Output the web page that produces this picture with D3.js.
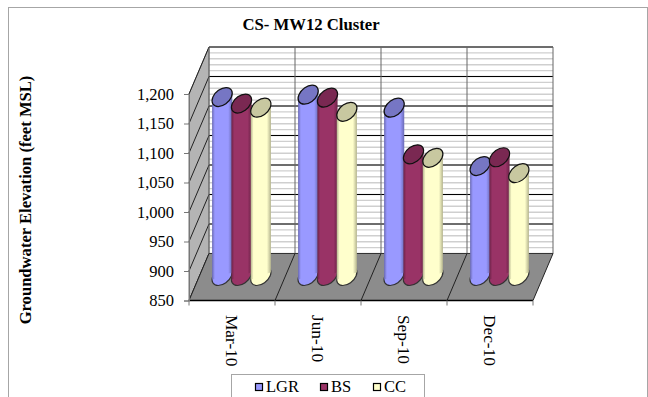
<!DOCTYPE html>
<html>
<head>
<meta charset="utf-8">
<script src="https://cdn.jsdelivr.net/npm/d3@7"></script>
<style>
  html, body { margin: 0; padding: 0; background: #fff; overflow: hidden; }
  text { font-family: "Liberation Serif", serif; fill: #000; }
</style>
</head>
<body>
<svg id="chart" width="648" height="397"></svg>
<script>
var categories = ['Mar-10', 'Jun-10', 'Sep-10', 'Dec-10'];
var seriesNames = ['LGR', 'BS', 'CC'];
var lgr = [1155, 1159, 1137, 1038];
var bs = [1144, 1154, 1058, 1053];
var cc = [1137, 1130, 1052, 1026];
var yTicks = [850, 900, 950, 1000, 1050, 1100, 1150, 1200];
var minorTicks = d3.range(850, 1201, 10);

var seriesValues = [lgr, bs, cc];
var bodyColors = ['#9999ff', '#993366', '#ffffcc'];
var edgeColors = ['#6a6ab4', '#6c2348', '#b4b48e'];
var capColors = ['#7676c4', '#7a2852', '#c8c8a0'];

// front plane of the box, the back wall is this shifted by depth
var x = d3.scaleBand().domain(categories).range([189, 533]);
var y = d3.scaleLinear().domain([850, 1200]).range([300.5, 94]);
var depth = { dx: 20, dy: -47 };
var barDepth = { dx: 8, dy: -19 };
var barW = 18.5;

var svg = d3.select('#chart');

svg.append('rect').attr('x', 8.5).attr('y', 7.5).attr('width', 639).attr('height', 400)
  .attr('fill', '#fff').attr('stroke', '#a6a6a6');

var defs = svg.append('defs');
seriesNames.forEach(function(name, i) {
  var g = defs.append('linearGradient').attr('id', 'grad-' + name);
  g.append('stop').attr('offset', '0').attr('stop-color', edgeColors[i]);
  g.append('stop').attr('offset', '0.14').attr('stop-color', bodyColors[i]);
  g.append('stop').attr('offset', '0.8').attr('stop-color', bodyColors[i]);
  g.append('stop').attr('offset', '1').attr('stop-color', edgeColors[i]);
});

var x0 = x.range()[0], x1 = x.range()[1];
var y0 = y(850), yTop = y(1200);

function pts(list) {
  return list.map(function(p) { return p.join(','); }).join(' ');
}

// back wall
svg.append('polygon')
  .attr('points', pts([[x0 + depth.dx, y0 + depth.dy], [x0 + depth.dx, yTop + depth.dy], [x1 + depth.dx, yTop + depth.dy], [x1 + depth.dx, y0 + depth.dy]]))
  .attr('fill', '#fff');

svg.append('g').selectAll('line').data(minorTicks).join('line')
  .attr('x1', x0 + depth.dx).attr('x2', x1 + depth.dx)
  .attr('y1', function(d) { return y(d) + depth.dy; })
  .attr('y2', function(d) { return y(d) + depth.dy; })
  .attr('stroke', '#cfcfcf').attr('stroke-width', 1.4);

// side wall
svg.append('polygon')
  .attr('points', pts([[x0, y0], [x0, yTop], [x0 + depth.dx, yTop + depth.dy], [x0 + depth.dx, y0 + depth.dy]]))
  .attr('fill', '#b4b4b4').attr('stroke', '#777');

svg.append('g').selectAll('line').data(yTicks.slice(1)).join('line')
  .attr('x1', x0 + depth.dx).attr('x2', x1 + depth.dx)
  .attr('y1', function(d) { return y(d) + depth.dy; })
  .attr('y2', function(d) { return y(d) + depth.dy; })
  .attr('stroke', '#000').attr('stroke-width', 1);

svg.append('g').selectAll('line').data(yTicks).join('line')
  .attr('x1', x0).attr('x2', x0 + depth.dx)
  .attr('y1', function(d) { return y(d); })
  .attr('y2', function(d) { return y(d) + depth.dy; })
  .attr('stroke', '#222').attr('stroke-width', 1);

// floor
svg.append('polygon')
  .attr('points', pts([[x0, y0], [x0 + depth.dx, y0 + depth.dy], [x1 + depth.dx, y0 + depth.dy], [x1, y0]]))
  .attr('fill', '#8c8c8c');

var catEdges = categories.map(function(c) { return x(c); }).concat([x1]);

svg.append('g').selectAll('line').data(catEdges).join('line')
  .attr('x1', function(d) { return d + depth.dx; }).attr('x2', function(d) { return d + depth.dx; })
  .attr('y1', yTop + depth.dy).attr('y2', y0 + depth.dy)
  .attr('stroke', '#666').attr('stroke-width', 1);

svg.append('g').selectAll('line').data(catEdges).join('line')
  .attr('x1', function(d) { return d; }).attr('x2', function(d) { return d + depth.dx; })
  .attr('y1', y0).attr('y2', y0 + depth.dy)
  .attr('stroke', '#222').attr('stroke-width', 1);

svg.append('line').attr('x1', x0 + depth.dx).attr('x2', x1 + depth.dx)
  .attr('y1', y0 + depth.dy).attr('y2', y0 + depth.dy).attr('stroke', '#333');
svg.append('line').attr('x1', x0).attr('x2', x1).attr('y1', y0).attr('y2', y0)
  .attr('stroke', '#000').attr('stroke-width', 1.5);

// cylinders
function ellipse(g, cx, cy, fill, stroke) {
  return g.append('circle').attr('r', 1)
    .attr('transform', 'matrix(' + [barW / 2, 0, barDepth.dx / 2, barDepth.dy / 2, cx, cy].join(',') + ')')
    .attr('fill', fill)
    .attr('stroke', stroke)
    .attr('stroke-width', 1.2)
    .attr('vector-effect', 'non-scaling-stroke');
}

var halfX = Math.sqrt(barW * barW + barDepth.dx * barDepth.dx) / 2;
var tangentY = (barDepth.dy / 2) * (barDepth.dx / (2 * halfX));
var series = d3.scaleBand().domain(seriesNames).range([0, 58]);

categories.forEach(function(cat, c) {
  seriesNames.forEach(function(name, s) {
    var cx = x(cat) + depth.dx / 2 + 13.5 + series(name) + series.bandwidth() / 2;
    var cyBase = y0 + depth.dy / 2 - 1;
    var cyTop = y(seriesValues[s][c]) + depth.dy / 2;
    var g = svg.append('g').attr('class', 'cyl');
    ellipse(g, cx, cyBase, bodyColors[s], '#333');
    g.append('polygon')
      .attr('points', pts([[cx - halfX, cyTop - tangentY], [cx + halfX, cyTop + tangentY], [cx + halfX, cyBase + tangentY], [cx - halfX, cyBase - tangentY]]))
      .attr('fill', 'url(#grad-' + name + ')');
    ellipse(g, cx, cyTop, capColors[s], '#111');
  });
});

// axes
var yAxis = d3.axisLeft(y).tickValues(yTicks).tickSize(5).tickPadding(10).tickFormat(d3.format(','));
var gy = svg.append('g').attr('transform', 'translate(' + x0 + ',0)').call(yAxis);
gy.select('.domain').attr('stroke', '#777');
gy.selectAll('line').attr('stroke', '#777');
gy.selectAll('text').style('font-size', '16.5px').style('font-family', '"Liberation Serif", serif').attr('fill', '#000');

var xAxis = d3.axisBottom(x).tickSize(0).tickPadding(0);
var gx = svg.append('g').attr('transform', 'translate(0,' + y0 + ')').call(xAxis);
gx.select('.domain').remove();
gx.selectAll('text')
  .attr('transform', 'translate(0,14.5) rotate(90)')
  .attr('x', 0).attr('y', 0).attr('dy', '0.35em')
  .attr('text-anchor', 'start')
  .style('font-size', '17.3px').style('font-family', '"Liberation Serif", serif').attr('fill', '#000');

svg.append('g').selectAll('line').data(catEdges).join('line')
  .attr('x1', function(d) { return d; }).attr('x2', function(d) { return d; })
  .attr('y1', y0).attr('y2', y0 + 5).attr('stroke', '#777');

// titles
svg.append('text').attr('x', 311).attr('y', 30).attr('text-anchor', 'middle')
  .style('font-size', '16.7px').style('font-weight', 'bold').text('CS- MW12 Cluster');
svg.append('text').attr('transform', 'translate(31,200) rotate(-90)').attr('text-anchor', 'middle')
  .style('font-size', '16.6px').style('font-weight', 'bold').text('Groundwater Elevation (feet MSL)');

// legend
var legend = svg.append('g');
legend.append('rect').attr('x', 231.5).attr('y', 374.5).attr('width', 193).attr('height', 30)
  .attr('fill', '#fff').attr('stroke', '#a6a6a6');
var legendX = d3.scaleOrdinal().domain(seriesNames).range([255, 320, 373]);
seriesNames.forEach(function(name, i) {
  var lx = legendX(name);
  legend.append('rect').attr('x', lx + 0.5).attr('y', 383.5).attr('width', 7).attr('height', 7)
    .attr('fill', bodyColors[i]).attr('stroke', '#000').attr('stroke-width', 1.2);
  legend.append('text').attr('x', lx + 11).attr('y', 392).style('font-size', '16.5px').text(name);
});
</script>
</body>
</html>
